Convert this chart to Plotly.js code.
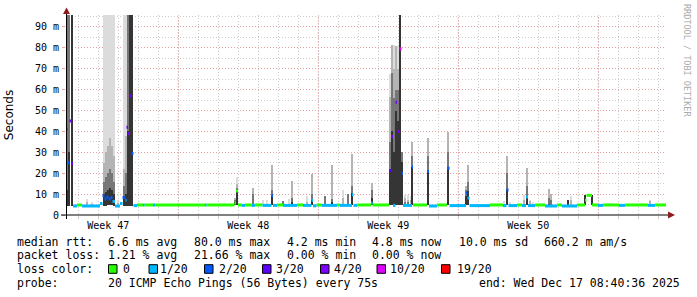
<!DOCTYPE html>
<html><head><meta charset="utf-8">
<script src="https://cdn.plot.ly/plotly-3.0.1.min.js"></script>
<style>html,body{margin:0;padding:0;background:#fff;}#chart{width:697px;height:297px;}</style>
</head><body><div id="chart"></div>
<script>
// ---------------- DATA ----------------
const rangeStart = "2025-11-17 09:14";
const rangeEnd   = "2025-12-17 09:14";

// median rtt runs: each run lasts until the next run start (last one until dataEnd)
const runStart = ["2025-11-17 09:14","2025-11-17 11:02","2025-11-17 13:26","2025-11-17 15:50","2025-11-17 17:38","2025-11-17 22:26","2025-11-18 04:26","2025-11-19 02:02","2025-11-19 05:02","2025-11-19 07:26","2025-11-19 09:50","2025-11-19 12:14","2025-11-19 14:38","2025-11-19 17:02","2025-11-19 20:02","2025-11-20 02:02","2025-11-20 05:02","2025-11-20 08:38","2025-11-20 09:50","2025-11-20 11:38","2025-11-20 14:02","2025-11-20 15:50","2025-11-20 18:14","2025-11-20 22:26","2025-11-21 05:38","2025-11-21 07:26","2025-11-21 17:38","2025-11-21 20:02","2025-11-24 08:02","2025-11-24 09:50","2025-11-25 19:26","2025-11-25 21:14","2025-11-25 23:38","2025-11-26 04:26","2025-11-26 08:02","2025-11-26 15:50","2025-11-26 20:02","2025-11-27 05:02","2025-11-27 15:50","2025-11-27 17:38","2025-11-27 22:26","2025-11-28 05:38","2025-11-28 22:26","2025-11-29 05:38","2025-11-29 15:50","2025-11-29 17:38","2025-11-29 21:50","2025-11-30 03:50","2025-11-30 22:26","2025-12-01 02:02","2025-12-01 16:26","2025-12-01 18:14","2025-12-01 22:26","2025-12-02 15:14","2025-12-02 17:02","2025-12-03 12:50","2025-12-03 15:14","2025-12-03 17:38","2025-12-03 20:38","2025-12-03 22:26","2025-12-03 23:38","2025-12-04 01:26","2025-12-04 03:50","2025-12-04 05:38","2025-12-04 16:26","2025-12-04 17:38","2025-12-05 10:26","2025-12-05 12:50","2025-12-05 22:26","2025-12-06 10:26","2025-12-06 13:26","2025-12-07 09:14","2025-12-07 11:02","2025-12-07 13:26","2025-12-08 14:02","2025-12-09 05:38","2025-12-09 09:50","2025-12-09 12:14","2025-12-09 22:26","2025-12-10 04:26","2025-12-10 09:14","2025-12-10 11:38","2025-12-10 20:02","2025-12-11 08:02","2025-12-11 22:26","2025-12-12 04:26","2025-12-12 22:26","2025-12-13 08:02","2025-12-13 09:50","2025-12-13 16:26","2025-12-13 23:38","2025-12-14 05:38","2025-12-15 00:50","2025-12-15 08:02","2025-12-16 11:38","2025-12-16 20:02"];
const dataEnd = "2025-12-17 09:14";
const runMedianMs = [41,25,45,24.5,4.3,4.8,4.3,5.5,9.2,7.7,8.6,7.7,8.3,6.5,4.3,5.5,8.3,7.0,42,39,57,29.5,4.5,4.8,4.8,4.8,4.8,4.8,4.8,4.8,5.8,11.5,4.8,4.6,4.8,4.6,4.8,4.6,9.2,4.6,4.8,4.6,4.8,4.6,7.0,4.4,4.8,4.6,4.8,4.6,9.7,4.6,4.8,5.7,4.8,21.3,37.6,4.6,54,42.7,40,79.5,20,4.6,23,4.8,20.8,4.3,4.8,22.4,4.5,10.5,8.1,4.5,4.8,4.5,12,4.5,4.8,4.5,8.6,4.5,4.8,4.3,4.8,4.3,4.8,7.0,9.4,4.8,4.6,4.8,4.6,4.8,4.6,4.8];
const runLoss = [3,2,4,3,1,0,1,1,2,2,2,2,2,1,1,1,2,1,3,4,4,2,1,0,1,0,1,0,1,0,0,0,0,1,0,1,0,1,2,1,0,1,0,1,1,1,0,1,0,1,1,1,0,1,0,3,4,1,4,3,4,10,2,1,2,0,2,1,0,2,1,2,1,1,0,1,2,1,0,1,1,1,0,1,0,1,0,0,0,0,1,0,1,0,1,0];

// smoke (ping spread) per time bin, ms: min, and tops of dark / mid / light-mid / max bands
const smokeTime = ["2025-11-17 10:26","2025-11-17 13:12","2025-11-17 15:58","2025-11-18 10:26","2025-11-18 16:26","2025-11-19 06:29","2025-11-19 08:53","2025-11-19 11:17","2025-11-19 13:41","2025-11-19 16:05","2025-11-19 18:29","2025-11-19 23:38","2025-11-20 06:29","2025-11-20 08:53","2025-11-20 11:17","2025-11-20 13:41","2025-11-20 16:05","2025-11-25 20:02","2025-11-25 22:26","2025-11-26 18:00","2025-11-27 06:00","2025-11-27 10:26","2025-11-27 16:48","2025-11-28 06:00","2025-11-28 12:50","2025-11-28 16:48","2025-11-29 10:48","2025-11-29 16:48","2025-11-30 07:26","2025-11-30 16:48","2025-12-01 06:00","2025-12-01 12:00","2025-12-01 16:48","2025-12-02 16:05","2025-12-03 14:02","2025-12-03 16:26","2025-12-03 18:50","2025-12-03 21:14","2025-12-03 23:38","2025-12-04 02:02","2025-12-04 04:26","2025-12-04 08:02","2025-12-04 11:38","2025-12-04 14:38","2025-12-04 16:48","2025-12-05 12:00","2025-12-06 12:00","2025-12-07 09:14","2025-12-07 11:38","2025-12-09 06:50","2025-12-09 10:48","2025-12-09 14:02","2025-12-10 06:14","2025-12-10 10:48","2025-12-10 14:02","2025-12-10 18:00","2025-12-11 12:14","2025-12-11 14:38","2025-12-12 11:02","2025-12-12 14:53","2025-12-13 08:24","2025-12-13 16:12","2025-12-16 13:26"];
const smokeMin  = [4.5,4.5,4.5,4.3,4.2,4.5,4.5,4.8,4.8,4.8,4.5,4.3,4.5,4.5,4.5,4.5,4.5,4.6,4.6,4.6,4.6,4.6,4.6,4.6,4.6,4.6,4.6,4.6,4.6,4.6,4.6,4.6,4.6,4.6,4.6,4.6,4.6,4.6,4.6,4.6,4.6,4.6,4.6,4.6,4.6,4.6,4.6,4.6,4.6,4.5,4.6,4.5,4.5,4.6,4.5,4.5,4.6,4.6,4.5,4.5,4.8,4.8,4.6];
const smokeDark = [12,30,100,4.6,4.5,10,11,12,13,12,10,4.6,9,10,40,100,100,6,12,5,4.6,4.6,9,5.5,4.6,6,4.6,7,5,6,4.6,5,10.5,8,21.6,40,30,50,45,100,25.6,5,5,4.8,23,21,22.4,9,11.3,4.5,12,4.5,4.8,8.9,5,4.5,5.5,5,7.3,4.6,9.4,9.4,4.6];
const smokeMid  = [100,100,100,5,4.8,16,18,20,22,20,16,5,14,20,100,100,100,7,13,10,4.6,4.6,12,6.8,4.6,8,4.8,10,9,7.5,5,10,14,12,35,68,56,60,60,100,30,6,6,5.5,28,28,30,12,16,4.8,20,5,5.5,14,5.5,4.8,8,7,7.3,5,9.4,9.4,5];
const smokeUpper= [100,100,100,6,5.2,25,30,33,37,33,28,5.8,22,38,100,100,100,8,15,13,5,5,24,6.8,5.5,16.5,6,19.7,9,24,8,10,29,15.3,56.7,81.4,70,81,70,100,30,8,7,7,34.7,37,39.5,14,23.7,5.5,28.3,5.5,7,22.5,6.5,5.5,12.4,10,7.3,7,9.4,9.4,6.5];
const smokeMax  = [100,100,100,7.8,6,100,100,100,100,100,100,7,100,100,100,100,100,8,18,13,7,7,24,6.8,7.7,16.5,9,19.7,9,24,11.8,10,29,15.3,67.5,81.4,81.4,81,81,100,30,9.7,9.7,9,34.7,37,39.5,14,23.7,6.5,28.3,6,9.5,22.5,7,6.3,12.4,10,7.3,9.2,9.4,9.4,7.3];

const lossLevels = [0,1,2,3,4,10,19];
const lossLabels = ["0","1/20","2/20","3/20","4/20","10/20","19/20"];
const lossColors = ["#26ff00","#00b8ff","#0059ff","#5e00ff","#7e00ff","#dd00ff","#ff0000"];

const weekStarts = ["2025-11-23","2025-11-30","2025-12-07","2025-12-14"];
const weekMid = ["2025-11-19 12:00","2025-11-26 12:00","2025-12-03 12:00","2025-12-10 12:00"];
const weekLabels = ["Week 47","Week 48","Week 49","Week 50"];
const yTickVals = [0,0.01,0.02,0.03,0.04,0.05,0.06,0.07,0.08,0.09];
const yTickText = ["0","10 m","20 m","30 m","40 m","50 m","60 m","70 m","80 m","90 m"];

const statRows = [
  ["median rtt:", ["6.6 ms avg","80.0 ms max","4.2 ms min","4.8 ms now","10.0 ms sd","660.2 m am/s"]],
  ["packet loss:", ["1.21 % avg","21.66 % max","0.00 % min","0.00 % now"]]
];
const probeText = "20 ICMP Echo Pings (56 Bytes) every 75s";
const endText = "end: Wed Dec 17 08:40:36 2025";

// ---------------- LAYOUT GEOMETRY ----------------
const W=697, H=297, M={l:66,r:31,t:15,b:82};
const PW=W-M.l-M.r, PH=H-M.t-M.b;
const px = x => (x-M.l)/PW;
const py = y => (M.t+PH-y)/PH;
const s = v => v/1000;
const MONO = "DejaVu Sans Mono";

// ---------------- TRACES ----------------
const barW = 2.4*3600*1000;
function smokeLayer(tops, color){
  return {type:'bar', x:smokeTime, base:smokeMin.map(s),
    y:tops.map((t,i)=>s(t-smokeMin[i])), width:barW,
    marker:{color:color, line:{width:0}}, hoverinfo:'skip', showlegend:false};
}
const traces = [
  smokeLayer(smokeMax,  '#dcdcdc'),
  smokeLayer(smokeUpper,'#b4b4b4'),
  smokeLayer(smokeMid,  '#777777'),
  smokeLayer(smokeDark, '#353535')
];
lossLevels.forEach((lv,k)=>{
  const xs=[], ys=[];
  runStart.forEach((t,i)=>{
    if(runLoss[i]!==lv) return;
    const t1 = i+1<runStart.length ? runStart[i+1] : dataEnd;
    xs.push(t,t1,null); ys.push(s(runMedianMs[i]),s(runMedianMs[i]),null);
  });
  traces.push({type:'scatter', mode:'lines', x:xs, y:ys, connectgaps:false,
    line:{color:lossColors[k], width:3}, hoverinfo:'skip', showlegend:false});
});

// ---------------- SHAPES & ANNOTATIONS ----------------
const shapes = [];
weekStarts.forEach(d=>shapes.push({type:'line', xref:'x', yref:'paper', x0:d, x1:d, y0:py(219), y1:1,
  line:{color:'#eba0a0', width:1, dash:'1px,2px'}, layer:'below'}));
// axis lines + arrows
shapes.push({type:'line', xref:'paper', yref:'paper', x0:px(61), x1:px(669), y0:0, y1:0, line:{color:'#000', width:1}});
shapes.push({type:'line', xref:'paper', yref:'paper', x0:px(66.5), x1:px(66.5), y0:py(219), y1:py(12), line:{color:'#000', width:1}});
shapes.push({type:'path', xref:'paper', yref:'paper', fillcolor:'#8e1c1c', line:{width:0},
  path:`M ${px(668)} ${py(211.5)} L ${px(675)} ${py(215)} L ${px(668)} ${py(218.5)} Z`});
shapes.push({type:'path', xref:'paper', yref:'paper', fillcolor:'#8e1c1c', line:{width:0},
  path:`M ${px(63)} ${py(14)} L ${px(70)} ${py(14)} L ${px(66.5)} ${py(7.5)} Z`});

const annotations = [];
function txt(x,y,t,extra){annotations.push(Object.assign({xref:'paper',yref:'paper',x:px(x),y:py(y),text:t,
  showarrow:false,xanchor:'left',yanchor:'middle',borderpad:0,font:{family:MONO,size:11.5,color:'#000'}},extra||{}));}
const rowY = [241.5,255,269,282.5];
const statX = [106.5,192.5,285.5,371,457.5,542.5];
statRows.forEach((row,r)=>{ txt(16,rowY[r],row[0]); row[1].forEach((t,j)=>txt(statX[j],rowY[r],t)); });
txt(16,rowY[2],"loss color:");
const boxX = [108.5,149,204.5,262.5,320.5,377,441.5];
const labX = [122,159,218,275,333,389,456];
lossLabels.forEach((l,k)=>{
  shapes.push({type:'rect', xref:'paper', yref:'paper', x0:px(boxX[k]), x1:px(boxX[k]+8.5),
    y0:py(rowY[2]+4.3), y1:py(rowY[2]-4.3), fillcolor:lossColors[k], line:{color:'#000', width:1}});
  txt(labX[k],rowY[2],l);
});
txt(16,rowY[3],"probe:");
txt(106.5,rowY[3],probeText);
txt(477.5,rowY[3],endText);
annotations.push({xref:'paper',yref:'paper',x:px(687),y:py(60),text:"RRDTOOL / TOBI OETIKER",textangle:90,
  showarrow:false,xanchor:'center',yanchor:'middle',font:{family:MONO,size:8.5,color:'#ababab'}});

const layout = {
  width:W, height:H, margin:M, paper_bgcolor:'#fff', plot_bgcolor:'#fff',
  showlegend:false, barmode:'overlay', bargap:0,
  xaxis:{type:'date', range:[rangeStart,rangeEnd], tickvals:weekMid, ticktext:weekLabels,
    ticks:'', showgrid:false, showline:false, zeroline:false, fixedrange:true, ticklabelstandoff:3,
    tickfont:{family:MONO,size:10,color:'#000'},
    minor:{dtick:86400000, tick0:'2025-11-17', showgrid:true, gridcolor:'#cccccc', griddash:'1px,2px', gridwidth:1,
      ticks:'outside', ticklen:3, tickcolor:'#cccccc'}},
  yaxis:{range:[0,0.0957], tickvals:yTickVals, ticktext:yTickText, showgrid:true,
    gridcolor:'#eba0a0', griddash:'1px,2px', gridwidth:1, zeroline:false, showline:false, fixedrange:true,
    ticks:'outside', ticklen:3, tickcolor:'#eba0a0', ticklabelstandoff:1,
    tickfont:{family:MONO,size:10,color:'#000'},
    minor:{dtick:0.005, showgrid:true, gridcolor:'#cccccc', griddash:'1px,2px', gridwidth:1},
    title:{text:'Seconds', font:{family:'DejaVu Sans',size:12,color:'#000'}, standoff:18}},
  shapes:shapes, annotations:annotations
};
Plotly.newPlot('chart', traces, layout, {staticPlot:true, displayModeBar:false});
</script></body></html>
